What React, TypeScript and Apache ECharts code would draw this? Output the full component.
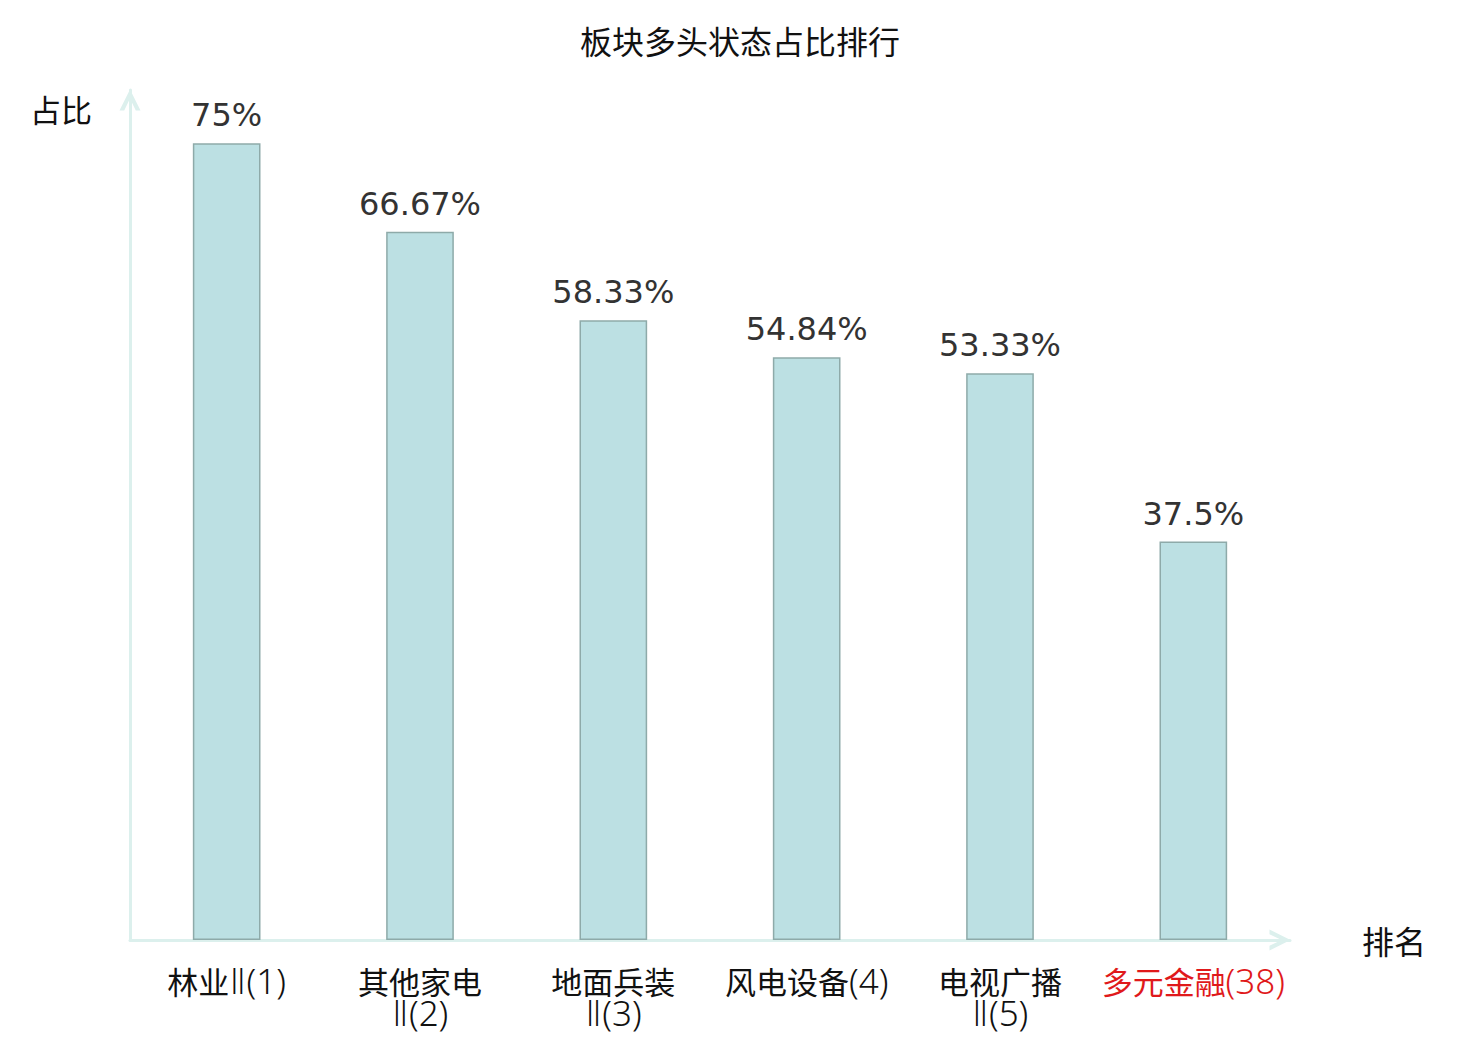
import React, { useEffect, useRef } from "react";
import * as echarts from "echarts";

const title = "板块多头状态占比排行";
const categories = [
  "林业Ⅱ(1)",
  "其他家电\nⅡ(2)",
  "地面兵装\nⅡ(3)",
  "风电设备(4)",
  "电视广播\nⅡ(5)",
  "多元金融(38)",
];
const values = [75, 66.67, 58.33, 54.84, 53.33, 37.5];
const yAxisName = "占比";
const xAxisName = "排名";
const highlightIndex = 5;

const chevron = "path://M0,20 L10,0 L20,20 L15.5,20 L10,8.5 L4.5,20 Z";

export default function App() {
  const ref = useRef<HTMLDivElement>(null);
  useEffect(() => {
    document.body.style.margin = "0";
    if (!ref.current) return;
    const chart = echarts.init(ref.current, undefined, { renderer: "svg" });
    const cjk = '"Noto Sans CJK SC", sans-serif';
    const latin = '"Noto Sans", "DejaVu Sans", sans-serif';
    const black = "#111111";
    const red = "#e0191b";
    const mk = (color: string) => ({
      c: { fontFamily: cjk, fontSize: 31, fontWeight: "normal", color, lineHeight: 32 },
      l: { fontFamily: latin, fontSize: 35, fontWeight: 300, color, lineHeight: 32 },
    });
    const b = mk(black);
    const r = mk(red);
    const rich = { c: b.c, l: b.l, cr: r.c, lr: r.l };
    const isCjk = /[\u4e00-\u9fff]/;
    const fmt = (value: string, index: number) => {
      const suf = index === highlightIndex ? "r" : "";
      return value
        .split("\n")
        .map((line) =>
          line.replace(/[\u4e00-\u9fff]+|[^\u4e00-\u9fff]+/g, (m) =>
            isCjk.test(m) ? `{c${suf}|${m}}` : `{l${suf}|${m}}`
          )
        )
        .join("\n");
    };
    chart.setOption({
      animation: false,
      backgroundColor: "#ffffff",
      title: {
        text: title,
        left: "center",
        top: 19,
        textStyle: { fontFamily: cjk, fontSize: 32, fontWeight: "normal", color: black },
      },
      grid: { left: 130, right: 190, top: 90, bottom: 100, containLabel: false },
      xAxis: {
        type: "category",
        data: categories,
        name: xAxisName,
        nameLocation: "end",
        nameGap: 72,
        nameTextStyle: { fontFamily: cjk, fontSize: 32, color: black, align: "left", verticalAlign: "middle" },
        axisLine: {
          show: true,
          lineStyle: { color: "#dcf0ed", width: 3 },
          symbol: ["none", chevron],
          symbolSize: [24, 21],
          symbolOffset: [0, -10],
        },
        axisTick: { show: false },
        axisLabel: {
          interval: 0,
          margin: 24,
          lineHeight: 32,
          formatter: fmt,
          rich,
        },
        splitLine: { show: false },
      },
      yAxis: {
        type: "value",
        min: 0,
        max: 80,
        name: yAxisName,
        nameLocation: "end",
        nameGap: -18,
        nameTextStyle: {
          fontFamily: cjk,
          fontSize: 31,
          color: black,
          align: "right",
          verticalAlign: "middle",
          padding: [0, 38, 0, 0],
        },
        axisLine: {
          show: true,
          lineStyle: { color: "#dcf0ed", width: 3 },
          symbol: ["none", chevron],
          symbolSize: [24, 21],
          symbolOffset: [0, -10],
        },
        axisTick: { show: false },
        axisLabel: { show: false },
        splitLine: { show: false },
      },
      series: [
        {
          type: "bar",
          data: values,
          barWidth: "35%",
          itemStyle: { color: "#bce0e3", borderColor: "#8eaaa9", borderWidth: 1.5 },
          label: {
            show: true,
            position: "top",
            distance: 12,
            formatter: (p: any) => p.value + "%",
            fontFamily: '"DejaVu Sans", sans-serif',
            fontSize: 32,
            color: "#333333",
          },
        },
      ],
    });
    return () => chart.dispose();
  }, []);
  return <div ref={ref} style={{ width: 1480, height: 1040 }} />;
}
